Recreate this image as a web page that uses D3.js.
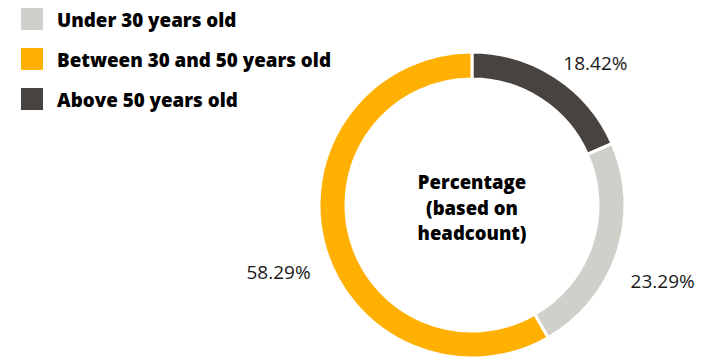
<!DOCTYPE html>
<html>
<head>
<meta charset="utf-8">
<script src="https://cdn.jsdelivr.net/npm/d3@7"></script>
<style>
  body { margin: 0; background: #fff; }
  svg { display: block; font-family: "Open Sans", sans-serif; }
</style>
</head>
<body>
<svg id="chart" width="709" height="357"></svg>
<script>
// data
var categories = ["Under 30 years old", "Between 30 and 50 years old", "Above 50 years old"];
var shares = [23.29, 58.29, 18.42];
var colors = ["#d0cfca", "#ffb000", "#48433e"];
// slice order going clockwise from the top
var sliceOrder = [2, 0, 1];
var centerLines = ["Percentage", "(based on", "headcount)"];

var svg = d3.select("#chart");
var cx = 472, cy = 205;
var outerR = 153, innerR = 126;

// legend
var legend = svg.append("g").attr("transform", "translate(21,8)");
var item = legend.selectAll("g")
    .data(categories)
    .enter().append("g")
    .attr("transform", function(d, i) { return "translate(0," + i * 40 + ")"; });
item.append("rect")
    .attr("width", 22).attr("height", 22)
    .attr("fill", function(d, i) { return colors[i]; });
item.append("text")
    .attr("x", 36).attr("y", 18.5)
    .attr("font-size", 18.8).attr("font-weight", 800)
    .attr("fill", "#000")
    .text(function(d) { return d; });

// donut
var pieData = sliceOrder.map(function(i) { return {name: categories[i], value: shares[i], color: colors[i]}; });
var pie = d3.pie().sort(null).value(function(d) { return d.value; });
var arc = d3.arc().innerRadius(innerR).outerRadius(outerR);
var g = svg.append("g").attr("transform", "translate(" + cx + "," + cy + ")");
var arcs = pie(pieData);

g.selectAll("path")
    .data(arcs)
    .enter().append("path")
    .attr("d", arc)
    .attr("fill", function(d) { return d.data.color; })
    .attr("stroke", "#fff")
    .attr("stroke-width", 3);

// value labels outside the ring
var labelR = 167;
g.selectAll("text.val")
    .data(arcs)
    .enter().append("text")
    .attr("class", "val")
    .attr("font-size", 19)
    .attr("fill", "#1a1a1a")
    .attr("dy", "0.35em")
    .attr("text-anchor", function(d) {
        var a = (d.startAngle + d.endAngle) / 2;
        return Math.sin(a) >= 0 ? "start" : "end";
    })
    .attr("x", function(d) {
        var a = (d.startAngle + d.endAngle) / 2;
        return labelR * Math.sin(a);
    })
    .attr("y", function(d) {
        var a = (d.startAngle + d.endAngle) / 2;
        var y = -labelR * Math.cos(a);
        if (Math.cos(a) < 0) y += 26; // push lower labels below the ring
        return y - 2;
    })
    .text(function(d) { return d.data.value.toFixed(2) + "%"; });

// centre caption
g.append("text")
    .attr("text-anchor", "middle")
    .attr("font-size", 18.5).attr("font-weight", 800)
    .attr("fill", "#000")
    .selectAll("tspan")
    .data(centerLines)
    .enter().append("tspan")
    .attr("x", 0)
    .attr("y", function(d, i) { return -16 + i * 25.5; })
    .text(function(d) { return d; });
</script>
</body>
</html>
